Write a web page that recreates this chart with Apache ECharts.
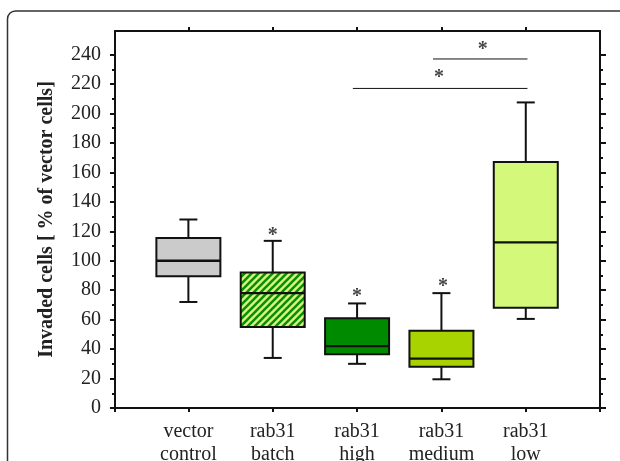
<!DOCTYPE html>
<html>
<head>
<meta charset="utf-8">
<script src="https://cdn.jsdelivr.net/npm/echarts@6/dist/echarts.min.js"></script>
<style>
  html, body { margin: 0; padding: 0; background: #fff; }
  #chart { width: 620px; height: 461px; }
</style>
</head>
<body>
<div id="chart"></div>
<script>
// box plot data (% of vector cells)
const categories = ['vector\ncontrol', 'rab31\nbatch', 'rab31\nhigh', 'rab31\nmedium', 'rab31\nlow']
const whiskerLow = [72, 34, 30, 19.5, 60.5]
const quart1 = [89.5, 55, 36.5, 28, 68]
const median = [100, 78, 42, 33.5, 112.5]
const quart3 = [115.5, 92, 61, 52.5, 167]
const whiskerHigh = [128, 113.5, 71, 78, 207.5]

// significance bars and asterisks
const sigFrom = [2.95, 3.9]
const sigTo = [5.02, 5.02]
const sigLevel = [217, 237]
const starX = [2, 3, 4.02, 3.97, 4.49]
const starY = [120.5, 79, 85.5, 227.5, 246.5]

const yMajor = [0, 20, 40, 60, 80, 100, 120, 140, 160, 180, 200, 220, 240]
const yMinor = [10, 30, 50, 70, 90, 110, 130, 150, 170, 190, 210, 230]

const SERIF = 'Liberation Serif'
const INK = '#111'

// hatched fill for the batch box
function stripePattern() {
  const s = 7
  const cv = document.createElement('canvas')
  cv.width = s
  cv.height = s
  const ctx = cv.getContext('2d')
  ctx.fillStyle = '#d6f77c'
  ctx.fillRect(0, 0, s, s)
  ctx.strokeStyle = '#0b8e0b'
  ctx.lineWidth = 2.6
  ctx.beginPath()
  ctx.moveTo(-1, s + 1); ctx.lineTo(s + 1, -1)
  ctx.moveTo(-2, 2); ctx.lineTo(2, -2)
  ctx.moveTo(s - 2, s + 2); ctx.lineTo(s + 2, s - 2)
  ctx.stroke()
  return { image: cv, repeat: 'repeat' }
}

const boxFills = ['#cbcbcb', stripePattern(), '#008a00', '#a8d300', '#d4f87a']

const boxData = categories.map((c, i) =>
  [i + 1, whiskerLow[i], quart1[i], median[i], quart3[i], whiskerHigh[i]])

function renderBox(params, api) {
  const x = api.value(0)
  const pLo = api.coord([x, api.value(1)])
  const pQ1 = api.coord([x, api.value(2)])
  const pMed = api.coord([x, api.value(3)])
  const pQ3 = api.coord([x, api.value(4)])
  const pHi = api.coord([x, api.value(5)])
  const cx = pMed[0]
  const half = 32
  const cap = 9
  const line = { stroke: INK, lineWidth: 2 }
  return {
    type: 'group',
    children: [
      { type: 'line', shape: { x1: cx, y1: pHi[1], x2: cx, y2: pQ3[1] }, style: line },
      { type: 'line', shape: { x1: cx, y1: pQ1[1], x2: cx, y2: pLo[1] }, style: line },
      { type: 'line', shape: { x1: cx - cap, y1: pHi[1], x2: cx + cap, y2: pHi[1] }, style: line },
      { type: 'line', shape: { x1: cx - cap, y1: pLo[1], x2: cx + cap, y2: pLo[1] }, style: line },
      {
        type: 'rect',
        shape: { x: cx - half, y: pQ3[1], width: half * 2, height: pQ1[1] - pQ3[1] },
        style: { fill: boxFills[params.dataIndex], stroke: INK, lineWidth: 2 }
      },
      { type: 'line', shape: { x1: cx - half, y1: pMed[1], x2: cx + half, y2: pMed[1] }, style: { stroke: INK, lineWidth: 2.4 } }
    ]
  }
}

const chart = echarts.init(document.getElementById('chart'), null, { renderer: 'canvas' })

const xBase = {
  type: 'value',
  min: 0.13,
  max: 5.88,
  splitLine: { show: false },
  axisLine: { show: true, onZero: false, lineStyle: { color: INK, width: 2 } }
}
const yBase = {
  type: 'value',
  min: 0,
  max: 256,
  interval: 20,
  splitLine: { show: false },
  axisLabel: { show: false }
}

const sigSeries = sigLevel.map((lvl, i) => ({
  type: 'line',
  data: [[sigFrom[i], lvl], [sigTo[i], lvl]],
  symbol: 'none',
  silent: true,
  lineStyle: { color: INK, width: 1 },
  z: 3
}))

chart.setOption({
  animation: false,
  backgroundColor: '#fff',
  graphic: [{
    type: 'rect',
    shape: { x: 7.5, y: 11, width: 800, height: 600, r: 8 },
    style: { fill: 'none', stroke: '#333', lineWidth: 1.5 },
    silent: true
  }],
  grid: { left: 115, right: 20, top: 31, bottom: 53, outerBoundsMode: 'none', containLabel: false },
  xAxis: [
    {
      ...xBase,
      position: 'bottom',
      axisTick: { show: true, length: 4, customValues: [0.13, 1, 2, 3, 4, 5, 5.88], lineStyle: { color: INK, width: 2 } },
      axisLabel: {
        customValues: [1, 2, 3, 4, 5],
        formatter: v => categories[Math.round(v) - 1],
        fontFamily: SERIF,
        fontSize: 20,
        lineHeight: 23,
        color: '#222',
        margin: 12
      }
    },
    {
      ...xBase,
      position: 'top',
      axisTick: { show: true, length: 4, customValues: [1, 2, 3, 4, 5], lineStyle: { color: INK, width: 2 } },
      axisLabel: { show: false }
    }
  ],
  yAxis: [
    {
      ...yBase,
      position: 'left',
      name: 'Invaded cells [ % of vector cells]',
      nameLocation: 'middle',
      nameGap: 58,
      nameTextStyle: { fontFamily: SERIF, fontSize: 20, fontWeight: 'bold', color: '#222' },
      axisLine: { show: true, onZero: false, lineStyle: { color: INK, width: 2 } },
      axisTick: { show: true, length: 5, customValues: yMajor, lineStyle: { color: INK, width: 2 } },
      axisLabel: { show: true, customValues: yMajor, fontFamily: SERIF, fontSize: 20, color: '#222', margin: 14 }
    },
    {
      ...yBase,
      position: 'right',
      axisLine: { show: true, onZero: false, lineStyle: { color: INK, width: 2 } },
      axisTick: { show: true, length: 6, customValues: yMajor, lineStyle: { color: INK, width: 2 } }
    },
    {
      ...yBase,
      position: 'left',
      axisLine: { show: false, onZero: false },
      axisTick: { show: true, length: 3, customValues: yMinor, lineStyle: { color: INK, width: 2 } }
    },
    {
      ...yBase,
      position: 'right',
      axisLine: { show: false, onZero: false },
      axisTick: { show: true, length: 3, customValues: yMinor, lineStyle: { color: INK, width: 2 } }
    }
  ],
  series: [
    {
      type: 'custom',
      renderItem: renderBox,
      data: boxData,
      encode: { x: 0, y: [1, 2, 3, 4, 5] },
      silent: true,
      z: 2
    },
    ...sigSeries,
    {
      type: 'scatter',
      data: starX.map((x, i) => [x, starY[i]]),
      symbolSize: 1,
      itemStyle: { color: 'transparent' },
      silent: true,
      label: {
        show: true,
        position: 'inside',
        formatter: '*',
        fontFamily: SERIF,
        fontSize: 20,
        fontWeight: 'bold',
        color: INK,
        offset: [0, 5]
      },
      z: 4
    }
  ]
})
</script>
</body>
</html>
